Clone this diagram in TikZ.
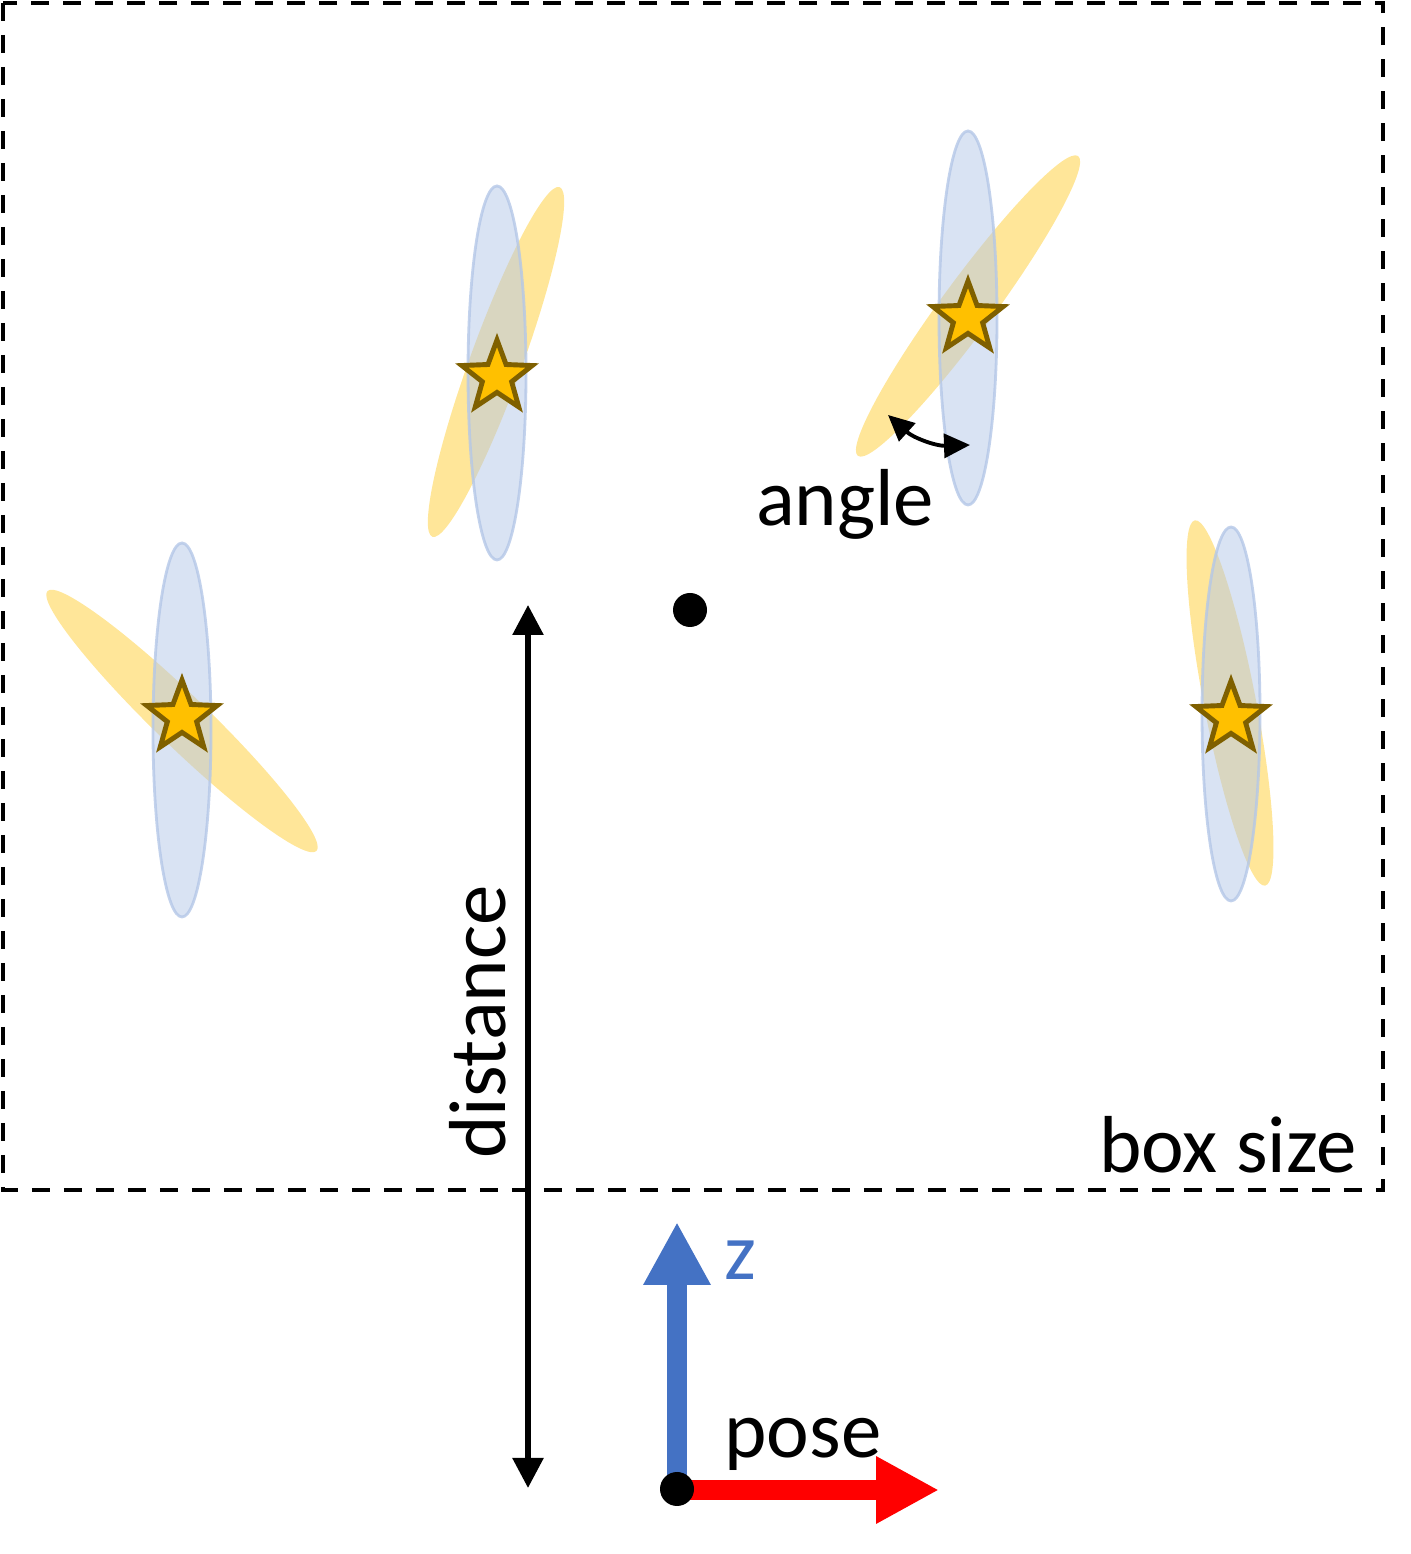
\documentclass[tikz,border=0pt]{standalone}
\usepackage{fontspec}
\setmainfont{Carlito}
\usetikzlibrary{arrows.meta, shapes.geometric}
\definecolor{ellblue}{HTML}{B4C7E7}
\definecolor{ellgold}{HTML}{FFE699}
\definecolor{starfill}{HTML}{FFC000}
\definecolor{starline}{HTML}{7F6000}
\definecolor{zblue}{HTML}{4472C4}
\begin{document}
\begin{tikzpicture}[label text/.style={font=\fontsize{23}{27}\selectfont, inner sep=0pt},
  star node/.style={star, star points=5, star point ratio=2.4, minimum size=0.74cm, inner sep=0pt, fill=starfill, draw=starline, line width=1.4pt},
  dot node/.style={circle, fill=black, minimum size=0.34cm, inner sep=0pt},
  blue ell/.style={fill=ellblue, fill opacity=0.5, draw=ellblue, draw opacity=0.8, line width=0.8pt},
  gold ell/.style={fill=ellgold},
  thin arrow/.style={line width=1.6pt, {Triangle[length=0.3cm,width=0.3cm]}-{Triangle[length=0.3cm,width=0.3cm]}},
  axis arrow/.style={line width=0.2cm, -{Triangle[length=0.63cm,width=0.63cm]}}]

  \useasboundingbox (0,0) rectangle (14.1,15.54);

  % box
  \draw[line width=1.15pt, dash pattern=on 0.18cm off 0.14cm] (0.03,15.51) rectangle (13.83,3.64);

  % uncertainty ellipses
  \fill[gold ell, rotate around={136:(1.82,8.33)}] (1.82,8.33) ellipse [x radius=1.87, y radius=0.26];
  \fill[gold ell, rotate around={70:(4.96,11.92)}] (4.96,11.92) ellipse [x radius=1.86, y radius=0.26];
  \fill[gold ell, rotate around={53.7:(9.68,12.48)}] (9.68,12.48) ellipse [x radius=1.86, y radius=0.26];
  \fill[gold ell, rotate around={100.9:(12.30,8.51)}] (12.30,8.51) ellipse [x radius=1.86, y radius=0.26];

  \draw[blue ell] (1.82,8.24) ellipse [x radius=0.29, y radius=1.87];
  \draw[blue ell] (4.97,11.81) ellipse [x radius=0.29, y radius=1.87];
  \draw[blue ell] (9.68,12.36) ellipse [x radius=0.29, y radius=1.87];
  \draw[blue ell] (12.31,8.40) ellipse [x radius=0.29, y radius=1.87];

  % stars
  \node[star node] (s1) at (1.82,8.37) {};
  \node[star node] (s2) at (4.97,11.77) {};
  \node[star node] (s3) at (9.68,12.36) {};
  \node[star node] (s4) at (12.31,8.36) {};

  \node[dot node] (c) at (6.90,9.44) {};

  % angle
  \coordinate (a1) at (8.88,11.39);
  \coordinate (a2) at (9.70,11.09);
  \draw[line width=1.1pt, {Triangle[length=0.26cm,width=0.24cm]}-{Triangle[length=0.26cm,width=0.24cm]}] (a1) to[bend right=22] (a2);
  \node[label text] (angle) at (8.45,10.50) {angle};

  % distance
  \coordinate (dtop) at (5.28,9.49);
  \coordinate (dbot) at (5.28,0.66);
  \draw[thin arrow] (dbot) -- (dtop);
  \node[label text, rotate=90] (dist) at (4.78,5.32) {distance};

  \node[label text] (box) at (12.28,4.09) {box size};

  % pose
  \coordinate (ztip) at (6.77,3.32);
  \coordinate (xtip) at (9.39,0.64);
  \draw[axis arrow, zblue] (6.77,0.65) -- (ztip);
  \draw[axis arrow, red] (6.77,0.64) -- (xtip);
  \node[dot node] (p) at (6.77,0.65) {};
  \node[label text, text=zblue] (z) at (7.40,2.94) {z};
  \node[label text] (pose) at (8.03,1.10) {pose};
\end{tikzpicture}
\end{document}
